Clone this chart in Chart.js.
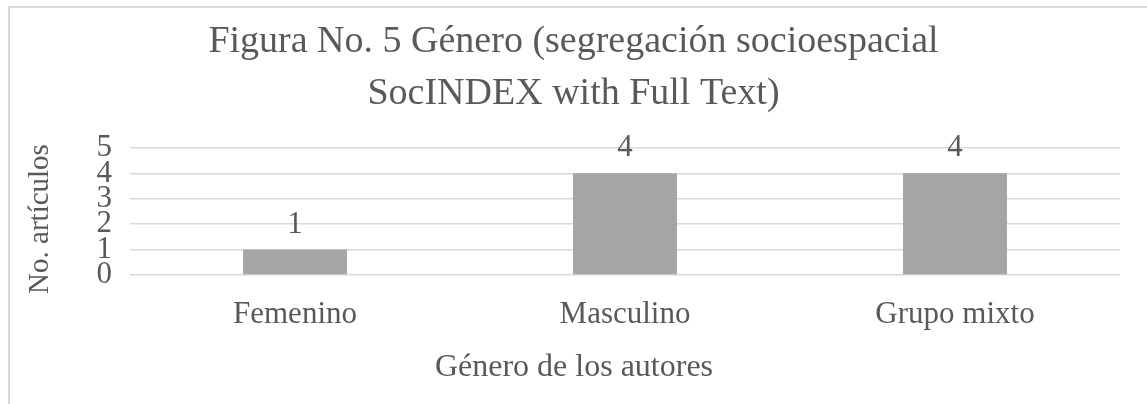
<!DOCTYPE html>
<html>
<head>
<meta charset="utf-8">
<script src="https://cdn.jsdelivr.net/npm/chart.js@4"></script>
<style>
  html, body { margin: 0; padding: 0; background: #fff; overflow: hidden; }
  #frame { position: absolute; left: 8px; top: 6px; width: 1160px; height: 420px; border: 2px solid #d9d9d9; }
  #wrap { position: absolute; left: 0; top: 0; width: 1147px; height: 404px; }
</style>
</head>
<body>
<div id="frame"></div>
<div id="wrap"><canvas id="chart" width="1147" height="404"></canvas></div>
<script>
// values
const categories = ["Femenino", "Masculino", "Grupo mixto"];
const articleCounts = [1, 4, 4];
const titleLines = ["Figura No. 5 Género (segregación socioespacial", "SocINDEX with Full Text)"];
const xAxisTitle = "Género de los autores";
const yAxisTitle = "No. artículos";

const textColor = "#595959";
const serif = "'Liberation Serif', 'Times New Roman', serif";

// value above each bar + axis titles centred on the whole figure (like the Excel original)
const extraText = {
  id: "extraText",
  afterDatasetsDraw(chart) {
    const ctx = chart.ctx;
    const meta = chart.getDatasetMeta(0);
    ctx.save();
    ctx.fillStyle = textColor;
    ctx.font = "31px " + serif;
    ctx.textAlign = "center";
    ctx.textBaseline = "alphabetic";
    meta.data.forEach((bar, i) => {
      ctx.fillText(String(articleCounts[i]), bar.x, bar.y - 17);
    });

    ctx.font = "32px " + serif;
    ctx.fillText(xAxisTitle, 574, 376);

    ctx.font = "29px " + serif;
    ctx.translate(48, 219);
    ctx.rotate(-Math.PI / 2);
    ctx.fillText(yAxisTitle, 0, 0);
    ctx.restore();
  },
};

new Chart(document.getElementById("chart").getContext("2d"), {
  type: "bar",
  data: {
    labels: categories,
    datasets: [
      {
        data: articleCounts,
        backgroundColor: "#a5a5a5",
        borderWidth: 0,
        categoryPercentage: 1,
        barPercentage: 0.315,
      },
    ],
  },
  options: {
    responsive: false,
    animation: false,
    layout: { padding: 0 },
    plugins: {
      legend: { display: false },
      tooltip: { enabled: false },
      title: {
        display: true,
        text: titleLines,
        color: textColor,
        font: { family: serif, size: 38, weight: "normal", lineHeight: 1.36 },
        padding: { top: 16, bottom: 28.6 },
      },
    },
    scales: {
      x: {
        grid: { display: false, drawTicks: false },
        border: { display: false },
        ticks: { color: textColor, font: { family: serif, size: 31 }, padding: 21 },
        afterFit(scale) { scale.height = 129; },
      },
      y: {
        min: 0,
        max: 5,
        grid: { color: "#d9d9d9", lineWidth: 1.5, drawTicks: false },
        border: { display: false },
        ticks: {
          stepSize: 1,
          autoSkip: false,
          color: textColor,
          font: { family: serif, size: 31, lineHeight: 1 },
          padding: 18,
        },
        afterFit(scale) { scale.width = 130; },
      },
      // empty right-hand gutter so the plot stops at the same place as the original
      gutter: {
        type: "linear",
        position: "right",
        grid: { display: false, drawTicks: false },
        border: { display: false },
        ticks: { display: false },
        afterFit(scale) { scale.width = 27; },
      },
    },
  },
  plugins: [extraText],
});
</script>
</body>
</html>
